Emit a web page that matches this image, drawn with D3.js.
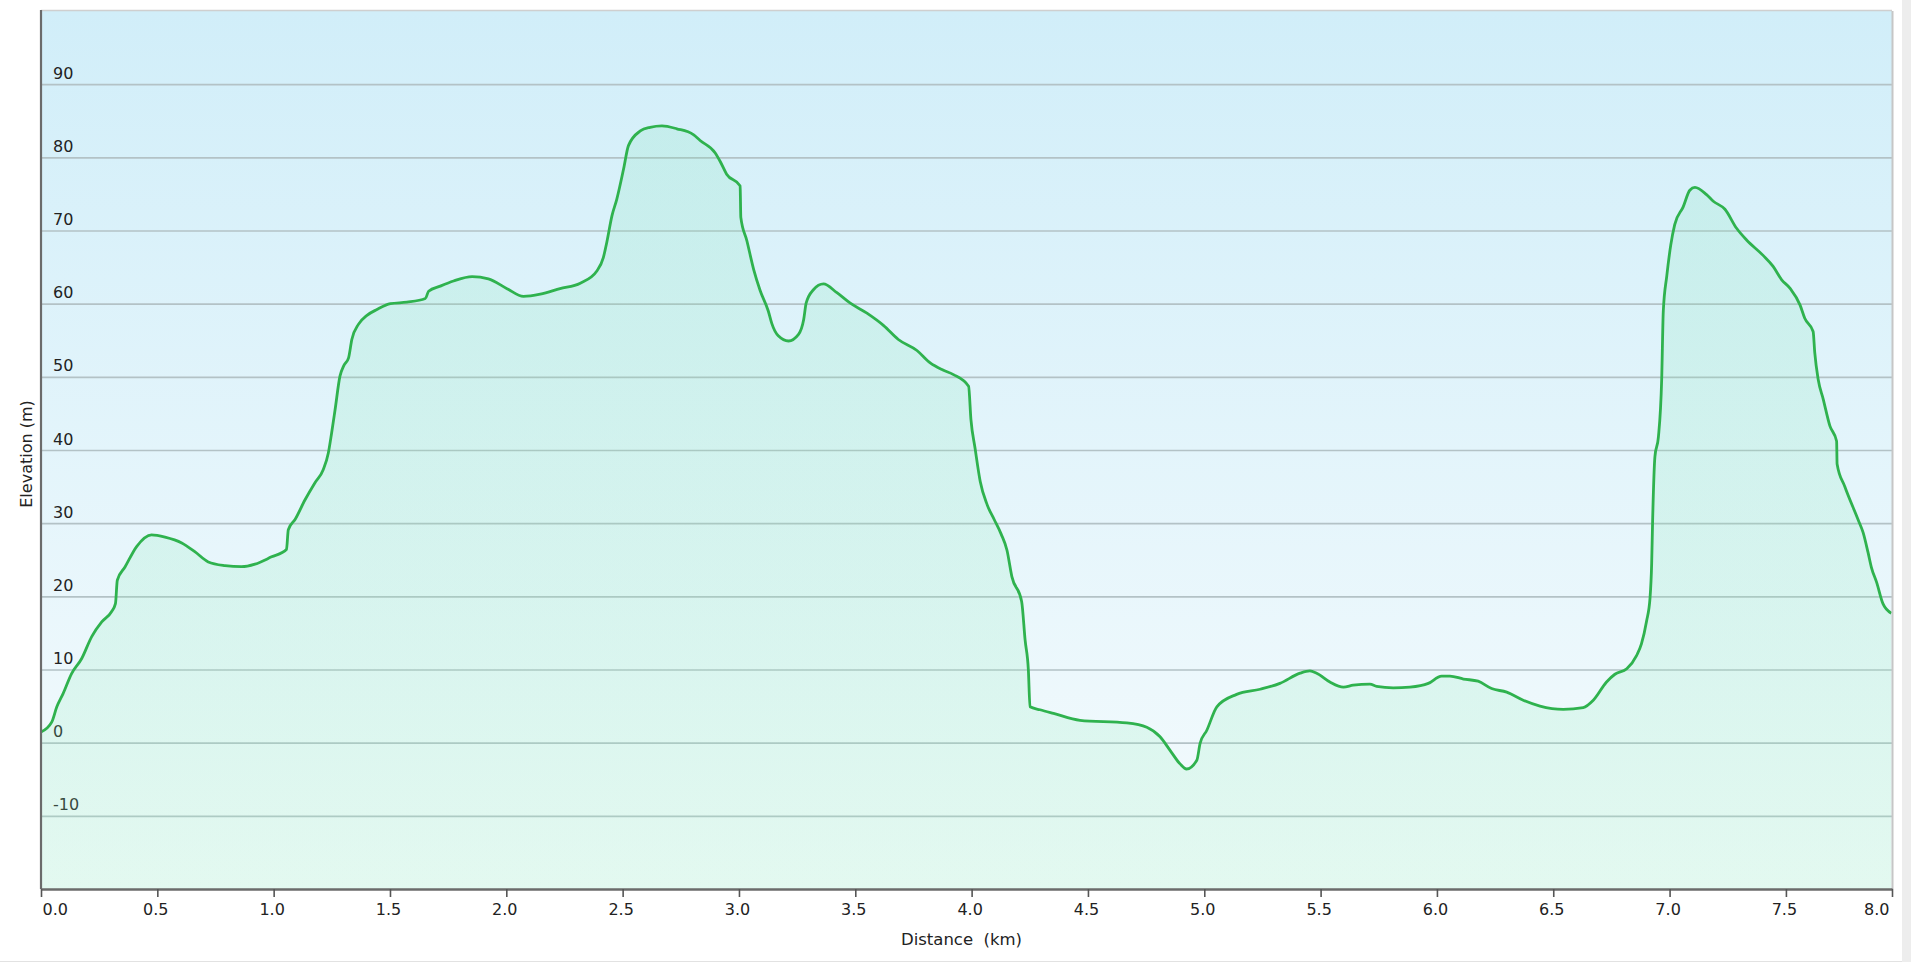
<!DOCTYPE html>
<html><head><meta charset="utf-8">
<script src="https://cdn.jsdelivr.net/npm/d3@7"></script>
<style>html,body{margin:0;padding:0;background:#fff;overflow:hidden}</style>
</head><body><svg id="chart" width="1911" height="962"></svg>
<script>
// ---- data ----
const distanceKm = [0,0.046,0.068,0.095,0.131,0.175,0.218,0.261,0.303,0.320,0.328,0.361,0.411,0.475,0.533,0.605,0.661,0.719,0.791,0.862,0.920,0.991,1.055,1.063,1.092,1.135,1.177,1.213,1.235,1.249,1.264,1.285,1.301,1.322,1.336,1.365,1.401,1.444,1.502,1.573,1.652,1.666,1.716,1.773,1.853,1.923,2.003,2.074,2.146,2.231,2.318,2.390,2.417,2.432,2.454,2.475,2.504,2.525,2.576,2.618,2.669,2.733,2.804,2.833,2.898,2.920,2.947,3.005,3.008,3.034,3.063,3.091,3.126,3.141,3.169,3.213,3.256,3.278,3.289,3.320,3.363,3.421,3.477,3.550,3.622,3.685,3.765,3.822,3.879,3.922,3.987,3.997,4.015,4.037,4.067,4.097,4.127,4.152,4.173,4.215,4.230,4.244,4.251,4.294,4.352,4.466,4.667,4.753,4.810,4.853,4.896,4.924,4.968,4.982,5.011,5.054,5.139,5.240,5.325,5.412,5.454,5.483,5.540,5.598,5.640,5.712,5.741,5.812,5.884,5.963,6.020,6.056,6.114,6.177,6.235,6.300,6.371,6.443,6.543,6.629,6.672,6.729,6.765,6.816,6.858,6.879,6.901,6.916,6.923,6.927,6.937,6.952,6.966,6.973,6.988,7.005,7.022,7.058,7.087,7.109,7.159,7.188,7.238,7.288,7.331,7.402,7.445,7.481,7.518,7.561,7.581,7.617,7.624,7.639,7.660,7.689,7.718,7.720,7.753,7.810,7.832,7.853,7.868,7.890,7.917,7.953];
const elevationM = [1.45,2.8,4.9,6.7,9.4,11.5,14.5,16.5,17.9,19.0,22.2,24.0,26.8,28.4,28.1,27.3,26.1,24.7,24.2,24.05,24.4,25.4,26.4,29.1,30.5,33.2,35.5,37.3,39.6,42.3,45.5,50.1,51.5,52.6,55.1,57.2,58.4,59.2,60.0,60.2,60.7,61.7,62.4,63.1,63.7,63.4,62.05,61.0,61.3,62.05,62.8,64.5,66.3,68.4,72.0,74.3,78.4,81.6,83.6,84.1,84.3,83.9,83.1,82.3,80.6,79.4,77.7,76.1,71.8,68.6,64.7,61.8,59.0,57.3,55.6,54.9,55.8,57.8,60.1,61.9,62.7,61.5,60.1,58.7,57.0,55.1,53.6,51.9,50.9,50.3,48.7,44.2,40.2,35.7,32.5,30.5,28.5,26.3,22.7,19.3,14.0,9.9,4.9,4.5,4.0,3.05,2.7,2.1,0.8,-1.05,-2.9,-3.6,-2.4,-0.1,1.7,4.9,6.6,7.3,8.1,9.5,9.8,9.5,8.3,7.6,7.85,8.0,7.7,7.5,7.6,8.1,9.1,9.1,8.7,8.4,7.4,6.9,5.8,5.0,4.56,4.8,5.8,8.3,9.35,10.1,11.9,13.5,16.6,19.8,24.5,30.2,39.1,41.8,49.6,59.0,63.8,68.0,70.8,73.2,75.5,75.9,74.9,74.0,72.9,70.3,68.7,66.6,65.1,63.3,62.1,59.8,58.0,56.2,53.3,49.6,47.0,43.3,41.2,38.1,35.0,30.5,28.7,26.0,23.9,21.9,19.0,17.7];
const totalDistanceKm = 7.956;
const xTickValues = [0,0.5,1.0,1.5,2.0,2.5,3.0,3.5,4.0,4.5,5.0,5.5,6.0,6.5,7.0,7.5];
const yTickValues = [-10,0,10,20,30,40,50,60,70,80,90];
const yDomain = [-20,100];
const xTitle = "Distance  (km)";
const yTitle = "Elevation (m)";

// ---- layout ----
const L = 41, R = 1892, T = 11, B = 889;
const FONT = "'DejaVu Sans', Verdana, sans-serif";
const svg = d3.select('#chart');
const x = d3.scaleLinear().domain([0, totalDistanceKm]).range([L, R]);
const y = d3.scaleLinear().domain(yDomain).range([B, T]);
const pts = distanceKm.map((d, i) => [d, elevationM[i]]);

// frame bits
svg.append('rect').attr('x', 1902).attr('y', 0).attr('width', 9).attr('height', 962).attr('fill', '#ededed');
svg.append('line').attr('x1', 0).attr('x2', 1902).attr('y1', 961.5).attr('y2', 961.5).attr('stroke', '#e2e2e2');

const defs = svg.append('defs');
const bg = defs.append('linearGradient').attr('id', 'bg').attr('x1', 0).attr('y1', 0).attr('x2', 0).attr('y2', 1);
bg.append('stop').attr('offset', '0%').attr('stop-color', '#d1eef9');
bg.append('stop').attr('offset', '100%').attr('stop-color', '#f5fbfd');
const fg = defs.append('linearGradient').attr('id', 'fillg').attr('x1', 0).attr('y1', 0).attr('x2', 0).attr('y2', 1);
fg.append('stop').attr('offset', '0%').attr('stop-color', '#6fe0a8').attr('stop-opacity', 0.16);
fg.append('stop').attr('offset', '100%').attr('stop-color', '#9af0bd').attr('stop-opacity', 0.2);

svg.append('rect').attr('x', L).attr('y', T).attr('width', R - L).attr('height', B - T).attr('fill', 'url(#bg)');

// grid + y labels
const yAxis = svg.append('g').attr('transform', `translate(${L},0)`)
  .call(d3.axisLeft(y).tickValues(yTickValues).tickSize(-(R - L)).tickFormat(d => String(d)));
yAxis.select('.domain').remove();
yAxis.selectAll('.tick line').attr('stroke', '#b3c2c6').attr('stroke-width', 1.6);
yAxis.selectAll('.tick text').attr('x', 12).attr('dy', null).attr('y', -6)
  .attr('text-anchor', 'start').attr('fill', '#222').style('font-family', FONT).style('font-size', '16px');

// area + line
const curve = d3.curveMonotoneX;
svg.append('path').datum(pts)
  .attr('d', d3.area().x(d => x(d[0])).y0(B).y1(d => y(d[1])).curve(curve))
  .attr('fill', 'url(#fillg)');
svg.append('path').datum(pts)
  .attr('d', d3.line().x(d => x(d[0])).y(d => y(d[1])).curve(curve))
  .attr('fill', 'none').attr('stroke', '#2fb24e').attr('stroke-width', 2.8).attr('stroke-linejoin', 'round');

// frame borders
svg.append('line').attr('x1', L).attr('x2', R).attr('y1', T - 0.5).attr('y2', T - 0.5).attr('stroke', '#cfcfcf').attr('stroke-width', 1.5);
svg.append('line').attr('x1', R + 0.5).attr('x2', R + 0.5).attr('y1', T).attr('y2', B).attr('stroke', '#c6c6c6').attr('stroke-width', 2);
svg.append('line').attr('x1', L).attr('x2', L).attr('y1', T - 1).attr('y2', B).attr('stroke', '#6b6b6b').attr('stroke-width', 2.2);

// x axis
const xAxis = svg.append('g').attr('transform', `translate(0,${B})`)
  .call(d3.axisBottom(x).tickValues(xTickValues.concat([totalDistanceKm])).tickFormat(d3.format('.1f')).tickSizeInner(8).tickSizeOuter(0).tickPadding(7));
xAxis.select('.domain').attr('stroke', '#6b6b6b').attr('stroke-width', 2.4);
xAxis.selectAll('.tick line').attr('stroke', '#555').attr('stroke-width', 1.6);
xAxis.selectAll('.tick text').attr('fill', '#222').style('font-family', FONT).style('font-size', '16px').attr('dx', -2);
const xt = xAxis.selectAll('.tick text').nodes();
d3.select(xt[0]).attr('text-anchor', 'start').attr('dx', 1);
d3.select(xt[xt.length - 1]).attr('text-anchor', 'end').attr('dx', -3);

// titles
svg.append('text').attr('x', (L + R) / 2 - 5).attr('y', 945).attr('text-anchor', 'middle')
  .style('white-space', 'pre').style('font-family', FONT).style('font-size', '16.5px').attr('fill', '#222').text(xTitle);
svg.append('text').attr('transform', `translate(32,${(T + B) / 2 + 4}) rotate(-90)`).attr('text-anchor', 'middle')
  .style('font-family', FONT).style('font-size', '16px').attr('fill', '#222').text(yTitle);
</script></body></html>
